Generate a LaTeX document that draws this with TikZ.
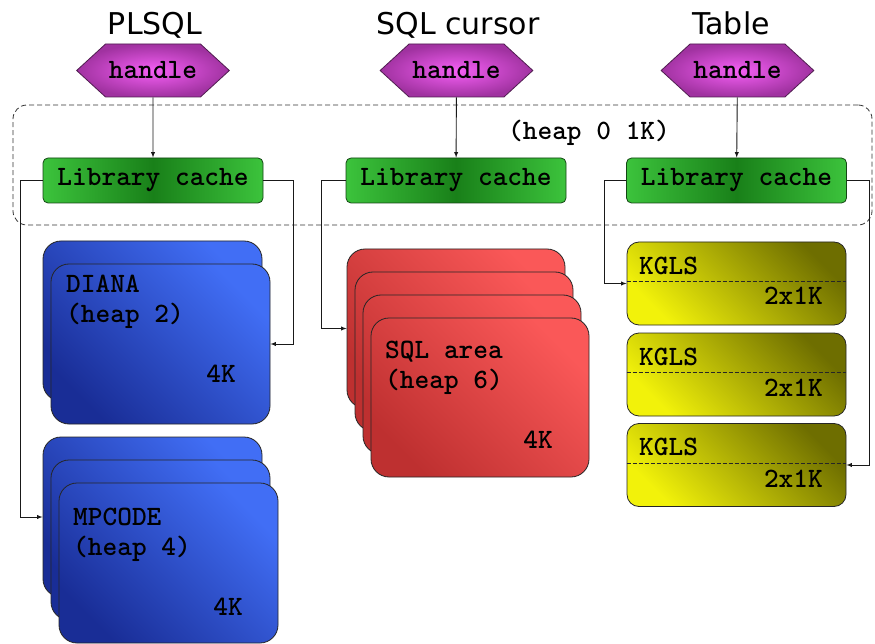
\documentclass[tikz,border=0pt]{standalone}
\usepackage{fontspec}
\setmainfont{DejaVu Sans}
\usetikzlibrary{shapes}
\usetikzlibrary{positioning}
\usetikzlibrary{arrows.meta}
\definecolor{hdlin}{RGB}{245,95,245}
\definecolor{hdlout}{RGB}{160,50,160}
\definecolor{hdlline}{RGB}{80,30,80}
\definecolor{lcbright}{RGB}{60,195,60}
\definecolor{lcdark}{RGB}{25,128,25}
\definecolor{lcline}{RGB}{20,70,20}
\definecolor{bluelight}{RGB}{65,110,245}
\definecolor{bluedark}{RGB}{25,45,150}
\definecolor{redlight}{RGB}{250,88,88}
\definecolor{reddark}{RGB}{190,48,48}
\definecolor{yelbright}{RGB}{242,242,10}
\definecolor{yeldark}{RGB}{110,110,0}
\tikzset{
    title/.style = {font=\fontsize{30}{36}\selectfont, anchor=base, inner sep=0pt},
    mono/.style = {font=\ttfamily\bfseries\fontsize{28}{30}\selectfont},
    handle/.style = {signal, signal to=east and west, signal pointer angle=85, draw=hdlline, line width=0.8pt,
                     inner color=hdlin, outer color=hdlout, minimum width=144pt, minimum height=53pt, mono},
    libcache/.style = {rectangle, rounded corners=5pt, draw=lcline, line width=0.8pt,
                       left color=lcbright, right color=lcbright, middle color=lcdark,
                       minimum width=220pt, minimum height=45pt, mono},
    heapbox/.style = {rectangle, rounded corners=14pt, draw=black!80, line width=0.8pt,
                      dash pattern=on 5pt off 3pt, minimum width=859pt, minimum height=120pt},
    bluelayer/.style = {rectangle, rounded corners=18pt, draw=black!85, line width=0.8pt,
                        top color=bluelight, bottom color=bluedark, shading angle=-45,
                        minimum width=219pt, minimum height=160pt},
    redlayer/.style = {rectangle, rounded corners=18pt, draw=black!85, line width=0.8pt,
                       top color=redlight, bottom color=reddark, shading angle=-45,
                       minimum width=218pt, minimum height=159pt},
    kgls/.style = {rectangle, rounded corners=12pt, draw=black!85, line width=0.8pt,
                   top color=yeldark, bottom color=yelbright, shading angle=-45,
                   minimum width=219pt, minimum height=83pt},
    split/.style = {draw=black!85, line width=0.7pt, dash pattern=on 4pt off 2pt},
    boxtext/.style = {mono, anchor=base west, inner sep=0pt},
    sizetext/.style = {mono, anchor=base east, inner sep=0pt},
    link/.style = {-latex, draw=black!90, line width=0.9pt}
}

\begin{document}
\begin{tikzpicture}[x=1pt, y=-1pt]
\path[use as bounding box, fill=white] (0,0) rectangle (875,644);
% shared heap 0 area
\node[heapbox] (heap0) at (442.5,165) {};
\node[mono, inner sep=0pt] (heaplbl) at (589,133) {(heap 0 1K)};
%
\node[title] (t1) at (155,35) {PLSQL};
\node[title] (t2) at (458,35) {SQL cursor};
\node[title] (t3) at (731,35) {Table};
%
\node[handle] (h1) at (153,70.5) {handle};
\node[handle] (h2) at (456.5,70.5) {handle};
\node[handle] (h3) at (737.5,70.5) {handle};
%
\node[libcache] (lc1) at (153,180.5) {Library cache};
\node[libcache] (lc2) at (456,180.5) {Library cache};
\node[libcache] (lc3) at (736.5,180.5) {Library cache};
% DIANA heap
\node[bluelayer] (di1) at (152.5,321) {};
\node[bluelayer] (di2) at (160.5,344) {};
\node[boxtext] (dilbl) at (66,292) {DIANA};
\node[boxtext] (diheap) at (66,322) {(heap 2)};
\node[sizetext] (disize) at (236,382) {4K};
% MPCODE heap
\node[bluelayer] (mp1) at (152.5,517) {};
\node[bluelayer] (mp2) at (160.5,540) {};
\node[bluelayer] (mp3) at (168.5,563) {};
\node[boxtext] (mplbl) at (73,525) {MPCODE};
\node[boxtext] (mpheap) at (73,555) {(heap 4)};
\node[sizetext] (mpsize) at (243,615) {4K};
% SQL area heap
\node[redlayer] (sq1) at (456,328.5) {};
\node[redlayer] (sq2) at (464,351.5) {};
\node[redlayer] (sq3) at (472,374.5) {};
\node[redlayer] (sq4) at (480,397.5) {};
\node[boxtext] (sqlbl) at (385,358) {SQL area};
\node[boxtext] (sqheap) at (385,388) {(heap 6)};
\node[sizetext] (sqsize) at (553,448) {4K};
% KGLS heaps
\node[kgls] (kg1) at (736.5,283.5) {};
\node[kgls] (kg2) at (736.5,374.5) {};
\node[kgls] (kg3) at (736.5,465) {};
\draw[split] ([yshift=-40pt]kg1.north west) -- ([yshift=-40pt]kg1.north east);
\draw[split] ([yshift=-40pt]kg2.north west) -- ([yshift=-40pt]kg2.north east);
\draw[split] ([yshift=-40pt]kg3.north west) -- ([yshift=-40pt]kg3.north east);
\node[boxtext] (kg1lbl) at (639,275) {KGLS};
\node[sizetext] (kg1size) at (823,305) {2x1K};
\node[boxtext] (kg2lbl) at (639,365) {KGLS};
\node[sizetext] (kg2size) at (823,396) {2x1K};
\node[boxtext] (kg3lbl) at (639,455) {KGLS};
\node[sizetext] (kg3size) at (823,487) {2x1K};
%
\draw[link] (h1) -- (lc1);
\draw[link] (h2) -- (lc2);
\draw[link] (h3) -- (lc3);
\draw[link] (lc1.west) -- ++(-22,0) |- (mp1.west);
\draw[link] (lc1.east) -- ++(30,0) |- (di2.east);
\draw[link] (lc2.west) -- ++(-24,0) |- (sq1.west);
\draw[link] (lc3.west) -- ++(-22,0) |- (kg1.west);
\draw[link] (lc3.east) -- ++(23,0) |- (kg3.east);
\end{tikzpicture}
\end{document}
